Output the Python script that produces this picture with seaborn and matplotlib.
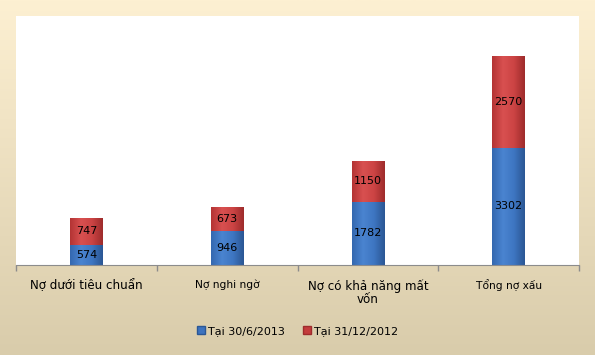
import numpy as np
import pandas as pd
import matplotlib
matplotlib.use("Agg")
import matplotlib.pyplot as plt
import seaborn as sns
from matplotlib.colors import LinearSegmentedColormap
from matplotlib.patches import Patch

categories = ["Nợ dưới tiêu chuẩn", "Nợ nghi ngờ", "Nợ có khả năng mất\nvốn", "Tổng nợ xấu"]
label_sizes = [8.6, 7.7, 8.6, 7.7]
jun_2013 = [574, 946, 1782, 3302]
dec_2012 = [747, 673, 1150, 2570]
series_names = ["Tại 30/6/2013", "Tại 31/12/2012"]

blue = "#3D73BF"
red = "#C43C3C"

df = pd.DataFrame({"cat": categories, "jun": jun_2013, "dec": dec_2012})
df["total"] = df["jun"] + df["dec"]

sns.set_style("white")
plt.rcParams["font.family"] = ["DejaVu Sans"]
plt.rcParams["text.color"] = "black"

fig = plt.figure(figsize=(5.95, 3.55), dpi=100)

# cream gradient background
bg = fig.add_axes([0, 0, 1, 1], zorder=-10)
grad = np.linspace(0, 1, 256).reshape(-1, 1)
bg_cmap = LinearSegmentedColormap.from_list("bg", ["#FDF0D2", "#D9CCAB"])
bg.imshow(grad, aspect="auto", cmap=bg_cmap, extent=[0, 1, 0, 1], origin="upper")
bg.axis("off")

ax = fig.add_axes([16 / 595, 1 - 265 / 355, 563 / 595, 249 / 355])
ax.set_facecolor("white")

sns.barplot(data=df, x="cat", y="total", color=red, width=0.23, ax=ax,
            saturation=1, edgecolor="none")
sns.barplot(data=df, x="cat", y="jun", color=blue, width=0.23, ax=ax,
            saturation=1, edgecolor="none")

# horizontal shading on each bar
cm_red = LinearSegmentedColormap.from_list("r", ["#B43434", "#D85050", "#CC4444", "#9E2C2C"])
cm_blue = LinearSegmentedColormap.from_list("b", ["#3468B0", "#4A84D0", "#3E76C2", "#2B5794"])
hgrad = np.linspace(0, 1, 64).reshape(1, -1)
n = len(categories)
for i, p in enumerate(ax.patches):
    x0, y0 = p.get_x(), p.get_y()
    w, h = p.get_width(), p.get_height()
    cmap = cm_red if i < n else cm_blue
    im = ax.imshow(hgrad, aspect="auto", cmap=cmap, extent=[x0, x0 + w, y0, y0 + h],
                   zorder=p.get_zorder() + 0.1 + (0.5 if i >= n else 0))
    im.set_clip_path(p)

for i in range(n):
    ax.text(i, jun_2013[i] / 2, str(jun_2013[i]), ha="center", va="center",
            fontsize=8, color="black", zorder=10)
    ax.text(i, jun_2013[i] + dec_2012[i] / 2, str(dec_2012[i]), ha="center", va="center",
            fontsize=8, color="black", zorder=10)

ax.set_xlim(-0.5, n - 0.5)
ax.set_ylim(0, 7000)
ax.set_yticks([])
ax.set_xlabel("")
ax.set_ylabel("")
ax.set_xticks(np.arange(-0.5, n, 1))
ax.set_xticklabels([])
ax.tick_params(axis="x", length=4, color="#8C8C8C", width=1, bottom=True, direction="out")
for s in ["top", "right", "left"]:
    ax.spines[s].set_visible(False)
ax.spines["bottom"].set_color("#8C8C8C")

for i, (c, fs) in enumerate(zip(categories, label_sizes)):
    ax.text(i, -0.058, c, transform=ax.get_xaxis_transform(), ha="center", va="top",
            fontsize=fs, linespacing=1.05, color="black")

handles = [Patch(facecolor=blue, edgecolor="#2B5794"), Patch(facecolor=red, edgecolor="#9E2C2C")]
fig.legend(handles, series_names, loc="center", bbox_to_anchor=(0.5, 0.067), ncol=2,
           frameon=False, fontsize=8, handlelength=0.7, handleheight=0.7,
           handletextpad=0.3, columnspacing=1.6)

fig.savefig("out.png", dpi=100)
